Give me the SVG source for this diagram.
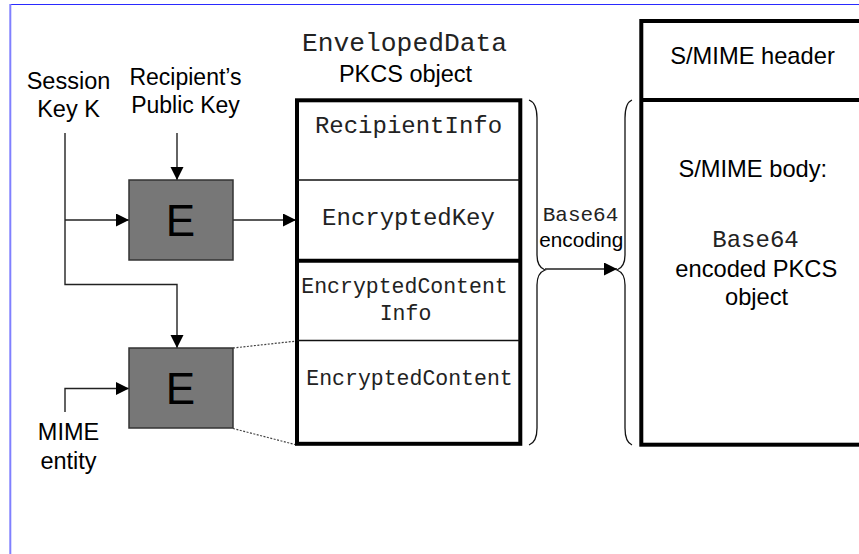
<svg xmlns="http://www.w3.org/2000/svg" width="859" height="554" viewBox="0 0 859 554">
<style>
.sans{font-family:"Liberation Sans",Arial,sans-serif;fill:#000}
.mono{font-family:"Liberation Mono","Courier New",monospace;fill:#222}
.conn{stroke:#222;stroke-width:1.4;fill:none}
.thick{stroke:#000;stroke-width:4;fill:none}
.thin{stroke:#111;stroke-width:1.3;fill:none}
.ebox{fill:#777;stroke:#333;stroke-width:1.5}
.brace{stroke:#111;stroke-width:1.3;fill:none}
.dot{stroke:#444;stroke-width:1.2;stroke-dasharray:2 1.5;fill:none}
</style>
<defs>
<marker id="ah" markerUnits="userSpaceOnUse" markerWidth="14" markerHeight="14" refX="13" refY="6.5" orient="auto">
<path d="M0,0 L13,6.5 L0,13 z" fill="#000"/>
</marker>
</defs>
<rect width="859" height="554" fill="#fff"/>
<g id="frame">
<line x1="10" y1="4.5" x2="859" y2="4.5" stroke="#2a2aff" stroke-width="1.2"/>
<line x1="10.3" y1="4" x2="10.3" y2="554" stroke="#8080ff" stroke-width="2"/>
</g>
<g id="labels">
<text class="sans" font-size="23.5" text-anchor="middle" x="68.5" y="89">Session</text>
<text class="sans" font-size="23.5" text-anchor="middle" x="68.5" y="117">Key K</text>
<text class="sans" font-size="23" text-anchor="middle" x="185.5" y="85">Recipient’s</text>
<text class="sans" font-size="23" text-anchor="middle" x="185.5" y="112.5">Public Key</text>
<text class="sans" font-size="23.5" text-anchor="middle" x="68.5" y="440">MIME</text>
<text class="sans" font-size="23.5" text-anchor="middle" x="68.5" y="469">entity</text>
<text class="mono" font-size="26.3" text-anchor="middle" x="404.5" y="50.5">EnvelopedData</text>
<text class="sans" font-size="23.5" text-anchor="middle" x="405.5" y="81.5">PKCS object</text>
</g>
<g id="connectors">
<polyline class="conn" points="65,133 65,284.5 177,284.5 177,348" marker-end="url(#ah)"/>
<line class="conn" x1="177" y1="133" x2="177" y2="180" marker-end="url(#ah)"/>
<line class="conn" x1="65" y1="220" x2="129" y2="220" marker-end="url(#ah)"/>
<line class="conn" x1="233" y1="220" x2="296" y2="220" marker-end="url(#ah)"/>
<polyline class="conn" points="65,412 65,388.5 129,388.5" marker-end="url(#ah)"/>
<line class="dot" x1="233" y1="348" x2="297" y2="341"/>
<line class="dot" x1="233" y1="428.5" x2="297" y2="445"/>
<line class="conn" x1="545" y1="269" x2="617" y2="269" marker-end="url(#ah)"/>
</g>
<g id="enc1">
<rect class="ebox" x="129" y="180" width="104" height="80"/>
<text class="sans" font-size="44" text-anchor="middle" x="180.5" y="235.7">E</text>
</g>
<g id="enc2">
<rect class="ebox" x="129" y="348" width="104" height="80"/>
<text class="sans" font-size="44" text-anchor="middle" x="180.5" y="404">E</text>
</g>
<g id="pkcs">
<rect class="thick" x="297" y="100.3" width="223.3" height="343.5"/>
<line class="thin" x1="297" y1="180" x2="520" y2="180"/>
<line class="thick" x1="297" y1="260.8" x2="520" y2="260.8"/>
<line class="thin" x1="297" y1="340.5" x2="520" y2="340.5"/>
<text class="mono" font-size="24" text-anchor="middle" x="408.5" y="133.3">RecipientInfo</text>
<text class="mono" font-size="24" text-anchor="middle" x="408.5" y="225">EncryptedKey</text>
<text class="mono" font-size="21.5" text-anchor="middle" x="404.5" y="293.3">EncryptedContent</text>
<text class="mono" font-size="21.5" text-anchor="middle" x="405.5" y="320">Info</text>
<text class="mono" font-size="21.5" text-anchor="middle" x="409.5" y="385">EncryptedContent</text>
</g>
<g id="encoding">
<path class="brace" d="M529,100 Q537,103 537,118 L537,255 Q537,267 545,270 Q537,273 537,285 L537,428 Q537,442 529,445"/>
<path class="brace" d="M632,100 Q625,103 625,118 L625,255 Q625,267 617,270 Q625,273 625,285 L625,428 Q625,442 632,445"/>
<text class="mono" font-size="21" text-anchor="middle" x="580.5" y="221">Base64</text>
<text class="sans" font-size="20.7" text-anchor="middle" x="581.3" y="246.7">encoding</text>
</g>
<g id="smime">
<rect class="thick" x="641.3" y="21" width="240" height="423.7"/>
<line class="thick" x1="641.3" y1="100" x2="859" y2="100"/>
<text class="sans" font-size="23.7" text-anchor="middle" x="752.5" y="64">S/MIME header</text>
<text class="sans" font-size="23.7" text-anchor="middle" x="752.8" y="176.7">S/MIME body:</text>
<text class="mono" font-size="24" text-anchor="middle" x="755.5" y="246.7">Base64</text>
<text class="sans" font-size="23.7" text-anchor="middle" x="756.3" y="276.7">encoded PKCS</text>
<text class="sans" font-size="23.7" text-anchor="middle" x="756.6" y="305">object</text>
</g>
</svg>
